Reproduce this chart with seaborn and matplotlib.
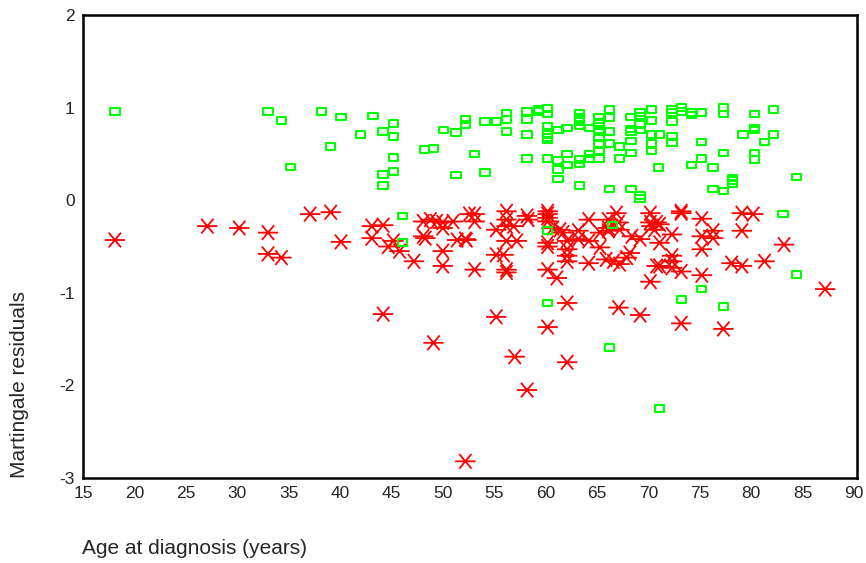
import numpy as np
import pandas as pd
import matplotlib
matplotlib.use("Agg")
import matplotlib.pyplot as plt
from matplotlib.path import Path
import seaborn as sns

# Censored cases (green squares)
cens_age = [18.1, 33.0, 34.3, 35.2, 38.2, 39.1, 40.1, 42.0, 43.2, 44.2, 44.2, 44.2,
            45.2, 45.2, 45.2, 45.2, 46.1, 46.1, 48.2, 49.1, 50.1, 51.3, 51.3, 52.2,
            52.2, 53.1, 54.1, 54.1, 55.2, 56.2, 56.2, 56.2, 58.2, 58.2, 58.2, 58.2,
            59.3, 59.3, 60.2, 60.2, 60.2, 60.2, 60.2, 60.2, 60.2, 60.2, 60.2, 61.2,
            61.2, 61.2, 61.2, 62.1, 62.1, 62.1, 63.3, 63.3, 63.3, 63.3, 63.3, 63.3,
            63.3, 64.3, 64.3, 64.3, 65.2, 65.2, 65.2, 65.2, 65.2, 65.2, 65.2, 65.2,
            66.2, 66.2, 66.2, 66.2, 66.2, 66.5, 66.2, 67.2, 67.2, 68.3, 68.3, 68.3,
            68.3, 68.3, 68.3, 69.2, 69.2, 69.2, 69.2, 69.2, 69.2, 70.3, 70.3, 70.3,
            70.3, 70.3, 71.1, 71.0, 71.1, 72.3, 72.3, 72.3, 72.3, 72.3, 73.2, 73.2,
            73.2, 74.2, 74.2, 74.2, 75.2, 75.2, 75.2, 75.2, 76.3, 76.3, 77.3, 77.3,
            77.3, 77.3, 77.3, 78.2, 78.2, 78.2, 79.2, 80.3, 80.3, 80.3, 80.3, 80.3,
            81.3, 82.2, 82.2, 83.1, 84.4, 84.4]
cens_resid = [0.96, 0.96, 0.86, 0.36, 0.96, 0.58, 0.90, 0.71, 0.91, 0.74, 0.28, 0.16,
              0.83, 0.69, 0.46, 0.31, -0.17, -0.46, 0.55, 0.56, 0.76, 0.73, 0.27, 0.87,
              0.82, 0.50, 0.85, 0.30, 0.85, 0.94, 0.87, 0.74, 0.96, 0.87, 0.71, 0.45,
              0.98, 0.96, 0.99, 0.93, 0.80, 0.71, 0.68, 0.65, 0.45, -0.33, -1.11, 0.76,
              0.43, 0.33, 0.23, 0.78, 0.50, 0.38, 0.94, 0.89, 0.85, 0.80, 0.44, 0.39,
              0.16, 0.78, 0.50, 0.45, 0.90, 0.84, 0.80, 0.76, 0.67, 0.61, 0.53, 0.45,
              0.98, 0.89, 0.74, 0.61, 0.12, -0.27, -1.59, 0.58, 0.45, 0.90, 0.77, 0.74,
              0.64, 0.51, 0.12, 0.95, 0.91, 0.82, 0.76, 0.05, 0.02, 0.98, 0.86, 0.71,
              0.61, 0.53, 0.71, 0.35, -2.25, 0.98, 0.95, 0.85, 0.69, 0.62, 1.00, 0.96,
              -1.07, 0.95, 0.92, 0.38, 0.95, 0.63, 0.45, -0.96, 0.35, 0.12, 1.00, 0.93,
              0.51, 0.10, -1.15, 0.24, 0.21, 0.18, 0.71, 0.78, 0.76, 0.51, 0.44, 0.93,
              0.63, 0.98, 0.71, -0.15, 0.25, -0.80]

# Events (red stars)
event_age = [18.1, 27.1, 30.2, 33.0, 33.0, 34.3, 37.1, 39.1, 40.1, 43.1, 44.2, 43.1,
             45.2, 44.7, 45.8, 47.2, 44.2, 48.1, 48.8, 49.4, 50.0, 51.0, 48.1, 48.3,
             50.0, 50.0, 50.0, 51.4, 52.3, 52.6, 53.1, 53.1, 52.2, 53.1, 52.2, 49.1,
             55.2, 56.2, 56.2, 56.2, 56.9, 56.2, 57.2, 55.2, 55.9, 56.2, 56.2, 58.2,
             58.3, 60.2, 60.2, 60.2, 60.2, 60.7, 61.4, 61.7, 60.2, 60.2, 60.2, 61.1,
             62.1, 62.1, 62.1, 62.1, 63.2, 63.2, 64.2, 64.2, 64.2, 65.3, 65.3, 66.1,
             66.1, 66.1, 66.9, 67.1, 67.2, 65.9, 66.6, 67.2, 67.9, 68.2, 68.4, 69.2,
             70.2, 70.2, 70.3, 70.6, 70.2, 70.8, 62.1, 67.1, 57.0, 58.2, 55.2, 60.2,
             62.1, 69.2, 73.2, 77.3, 73.2, 73.2, 70.8, 71.1, 75.2, 79.1, 80.2, 72.3,
             75.2, 76.3, 76.3, 79.1, 75.2, 71.1, 72.3, 72.3, 71.1, 72.3, 73.2, 75.2,
             78.1, 79.1, 81.3, 83.2, 87.2]
event_resid = [-0.43, -0.28, -0.30, -0.35, -0.58, -0.62, -0.15, -0.13, -0.45, -0.28, -0.27, -0.41,
               -0.44, -0.50, -0.55, -0.66, -1.23, -0.23, -0.21, -0.23, -0.24, -0.23, -0.39, -0.41,
               -0.30, -0.55, -0.71, -0.43, -0.43, -0.15, -0.15, -0.23, -0.42, -0.75, -2.82, -1.54,
               -0.32, -0.12, -0.21, -0.28, -0.28, -0.44, -0.44, -0.59, -0.59, -0.75, -0.78, -0.17,
               -0.21, -0.12, -0.15, -0.19, -0.23, -0.30, -0.32, -0.35, -0.46, -0.50, -0.75, -0.84,
               -0.44, -0.53, -0.60, -0.66, -0.33, -0.42, -0.21, -0.44, -0.68, -0.35, -0.51, -0.21,
               -0.30, -0.33, -0.14, -0.24, -0.32, -0.64, -0.66, -0.69, -0.62, -0.57, -0.39, -0.42,
               -0.14, -0.24, -0.28, -0.32, -0.88, -0.71, -1.11, -1.16, -1.69, -2.05, -1.26, -1.37,
               -1.75, -1.24, -1.33, -1.39, -0.12, -0.14, -0.24, -0.26, -0.20, -0.14, -0.15, -0.37,
               -0.39, -0.33, -0.41, -0.33, -0.53, -0.46, -0.60, -0.66, -0.71, -0.73, -0.77, -0.81,
               -0.68, -0.71, -0.66, -0.48, -0.96]

x_ticks = [15, 20, 25, 30, 35, 40, 45, 50, 55, 60, 65, 70, 75, 80, 85, 90]
y_ticks = [-3, -2, -1, 0, 1, 2]

sns.set_style("white")
plt.rcParams["font.family"] = ["Liberation Sans", "DejaVu Sans"]

W, H = 866, 563
fig = plt.figure(figsize=(W / 100, H / 100), dpi=100)
ax = fig.add_axes([83 / W, 1 - 478 / H, (857 - 83) / W, (478 - 15) / H])

# custom markers
rect = Path([(-1, -0.7), (1, -0.7), (1, 0.7), (-1, 0.7), (-1, -0.7)],
            [Path.MOVETO, Path.LINETO, Path.LINETO, Path.LINETO, Path.CLOSEPOLY])
star = Path([(-1, 0), (1, 0), (-0.6, -0.72), (0.6, 0.72), (-0.6, 0.72), (0.6, -0.72)],
            [Path.MOVETO, Path.LINETO, Path.MOVETO, Path.LINETO, Path.MOVETO, Path.LINETO])

ev = pd.DataFrame({"age": event_age, "resid": event_resid})
ce = pd.DataFrame({"age": cens_age, "resid": cens_resid})

sns.scatterplot(data=ev, x="age", y="resid", ax=ax, marker=star, s=215,
                facecolors="none", edgecolors="#FF0000", linewidths=1.3, legend=False)
sns.scatterplot(data=ce, x="age", y="resid", ax=ax, marker=rect, s=46,
                facecolors="none", edgecolors="#00FF00", linewidths=1.5, legend=False)

ax.set_xlim(15, 90.3)
ax.set_ylim(-3, 2)
ax.set_xticks(x_ticks)
ax.set_yticks(y_ticks)
ax.set_xticklabels([str(t) for t in x_ticks], fontsize=12.5)
ax.set_yticklabels([str(t) for t in y_ticks], fontsize=12.5)
ax.tick_params(direction="inout", length=4, width=2, color="#222222", pad=4)
for sp in ax.spines.values():
    sp.set_visible(True)
    sp.set_color("black")
    sp.set_linewidth(1.8)
ax.set_xlabel("")
ax.set_ylabel("")

fig.text(82 / W, 1 - 548 / H, "Age at diagnosis (years)", ha="left", va="center", fontsize=15)
fig.text(20 / W, 1 - 478 / H, "Martingale residuals", ha="center", va="bottom",
         rotation=90, fontsize=15)

fig.savefig("out.png", dpi=100)
